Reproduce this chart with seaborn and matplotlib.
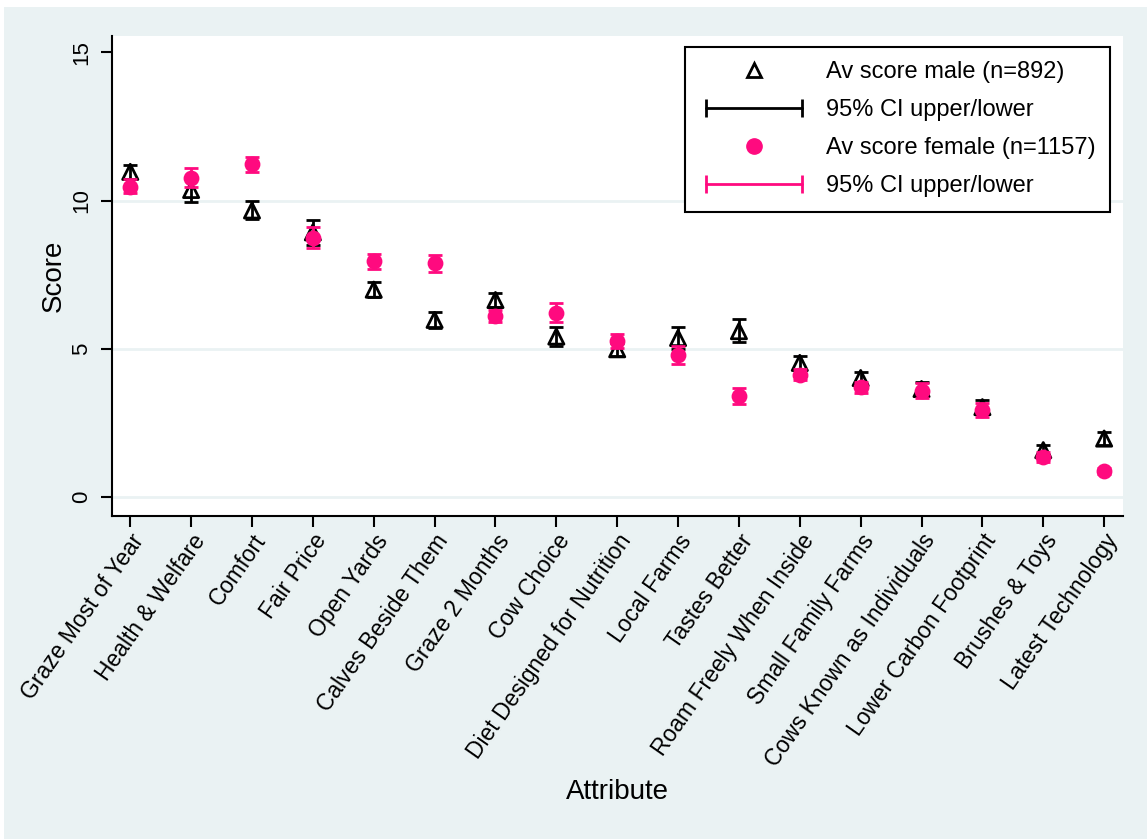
import seaborn as sns
import numpy as np
import pandas as pd
import matplotlib.pyplot as plt
from matplotlib.lines import Line2D
from matplotlib.patches import Rectangle
from matplotlib.legend_handler import HandlerLine2D

sns.set_theme(style="white")
plt.rcParams['font.family'] = ['Liberation Sans', 'DejaVu Sans']
plt.rcParams.update({"text.color": "black", "axes.labelcolor": "black",
                     "xtick.color": "black", "ytick.color": "black"})

# values
attributes = ["Graze Most of Year", "Health & Welfare", "Comfort", "Fair Price",
              "Open Yards", "Calves Beside Them", "Graze 2 Months", "Cow Choice",
              "Diet Designed for Nutrition", "Local Farms", "Tastes Better",
              "Roam Freely When Inside", "Small Family Farms", "Cows Known as Individuals",
              "Lower Carbon Footprint", "Brushes & Toys", "Latest Technology"]

male_mean = [10.97, 10.36, 9.67, 8.93, 7.00, 5.98, 6.65, 5.42, 4.99, 5.37, 5.60,
             4.53, 4.02, 3.65, 3.04, 1.59, 1.98]
male_lo = [10.74, 9.97, 9.37, 8.52, 6.76, 5.72, 6.42, 5.11, 4.78, 5.01, 5.22,
           4.30, 3.81, 3.42, 2.81, 1.43, 1.75]
male_hi = [11.20, 10.75, 9.99, 9.35, 7.26, 6.25, 6.89, 5.74, 5.20, 5.74, 6.01,
           4.76, 4.22, 3.89, 3.28, 1.76, 2.20]

female_mean = [10.47, 10.77, 11.22, 8.75, 7.96, 7.90, 6.10, 6.22, 5.27, 4.80, 3.41,
               4.13, 3.72, 3.59, 2.94, 1.36, 0.88]
female_lo = [10.26, 10.46, 10.95, 8.40, 7.70, 7.60, 5.90, 5.90, 5.04, 4.51, 3.15,
             3.95, 3.53, 3.35, 2.71, 1.19, 0.79]
female_hi = [10.73, 11.10, 11.48, 9.10, 8.20, 8.17, 6.32, 6.55, 5.50, 5.10, 3.68,
             4.33, 3.89, 3.85, 3.18, 1.53, 0.98]

pink = "#FF0A7F"
bg = "#EAF2F3"

male = pd.DataFrame({"pos": np.arange(len(attributes)), "score": male_mean,
                     "lo": male_lo, "hi": male_hi})
female = pd.DataFrame({"pos": np.arange(len(attributes)), "score": female_mean,
                       "lo": female_lo, "hi": female_hi})

fig = plt.figure(figsize=(11.47, 8.39), dpi=100, facecolor="white")
fig.patches.append(Rectangle((4 / 1147, 0), 1, 1 - 7 / 839, transform=fig.transFigure,
                             facecolor=bg, edgecolor="none", zorder=-10))
ax = fig.add_axes([112 / 1147, 1 - 516 / 839, (1123 - 112) / 1147, (516 - 36) / 839])
ax.set_facecolor("white")

for v in [0, 5, 10]:
    ax.axhline(v, color=bg, lw=2, zorder=0)

# male
sns.scatterplot(data=male, x="pos", y="score", marker="^", s=120, facecolors="none",
                edgecolor="black", linewidth=2, ax=ax, zorder=3)
ax.errorbar(male["pos"], male["score"], yerr=[male["score"] - male["lo"], male["hi"] - male["score"]],
            fmt="none", ecolor="black", elinewidth=2, capsize=5, capthick=2, zorder=3)
# female
sns.scatterplot(data=female, x="pos", y="score", marker="o", s=130, color=pink,
                edgecolor=pink, linewidth=0, ax=ax, zorder=4)
ax.errorbar(female["pos"], female["score"], yerr=[female["score"] - female["lo"], female["hi"] - female["score"]],
            fmt="none", ecolor=pink, elinewidth=2, capsize=5, capthick=2, zorder=4)

ax.set_xlim(-0.3, 16.31)
ax.set_ylim(-0.63, 15.55)
ax.set_xticks(np.arange(len(attributes)))
ax.set_xticklabels(attributes, rotation=55, ha="right", rotation_mode="anchor", fontsize=16.5)
ax.set_yticks([0, 5, 10, 15])
ax.set_yticklabels(["0", "5", "10", "15"], rotation=90, va="center", fontsize=16)
ax.tick_params(axis="both", direction="out", length=8, width=1.5, color="black",
               left=True, bottom=True, pad=6)
ax.tick_params(axis="x", pad=2)
for s in ["top", "right"]:
    ax.spines[s].set_visible(False)
for s in ["left", "bottom"]:
    ax.spines[s].set_color("black")
    ax.spines[s].set_linewidth(1.5)

ax.set_xlabel("Attribute", fontsize=20)
ax.set_ylabel("Score", fontsize=20)
ax.xaxis.set_label_coords(0.5, -0.548)
ax.yaxis.set_label_coords(-0.045, 0.5)

h_male = Line2D([], [], marker="^", mfc="none", mec="black", mew=2, ms=10, ls="none")
h_ci_m = Line2D([], [], color="black", lw=2, marker="|", ms=13, mew=2)
h_female = Line2D([], [], marker="o", color=pink, ms=11, ls="none")
h_ci_f = Line2D([], [], color=pink, lw=2, marker="|", ms=13, mew=2)
leg = fig.legend([h_male, h_ci_m, h_female, h_ci_f],
                 ["Av score male (n=892)", "95% CI upper/lower",
                  "Av score female (n=1157)", "95% CI upper/lower"],
                 handler_map={h_male: HandlerLine2D(numpoints=1), h_female: HandlerLine2D(numpoints=1),
                              h_ci_m: HandlerLine2D(numpoints=2), h_ci_f: HandlerLine2D(numpoints=2)},
                 loc="upper left", bbox_to_anchor=(685 / 1147, 1 - 47 / 839),
                 fontsize=17, handlelength=4.66, handletextpad=0.72, labelspacing=0.68,
                 borderpad=0.6, borderaxespad=0, fancybox=False, framealpha=1,
                 edgecolor="black")
leg.get_frame().set_linewidth(1.5)

fig.savefig("out.png", dpi=100, facecolor=fig.get_facecolor())
